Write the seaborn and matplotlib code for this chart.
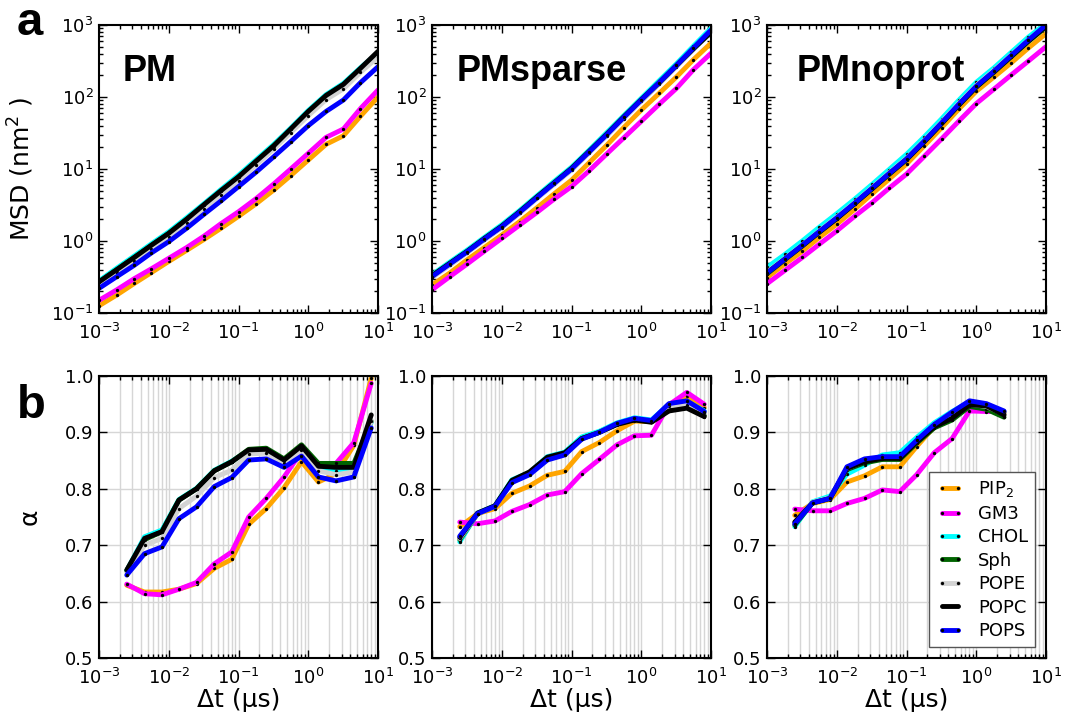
import numpy as np
import pandas as pd
import seaborn as sns
import matplotlib
matplotlib.use("Agg")
import matplotlib.pyplot as plt
from matplotlib.ticker import LogLocator, FormatStrFormatter

# ---- data ----
lipids = ['PIP2', 'GM3', 'CHOL', 'Sph', 'POPE', 'POPC', 'POPS']
legend_labels = ['PIP$_2$', 'GM3', 'CHOL', 'Sph', 'POPE', 'POPC', 'POPS']
colors = ['#FFA500', '#FF00FF', '#00FFFF', '#006400', '#D3D3D3', '#000000', '#0000FF']
systems = ['PM', 'PMsparse', 'PMnoprot']

# lag times (us)
t_msd = [0.001, 0.0018, 0.0032, 0.0056, 0.01, 0.018, 0.032, 0.056, 0.1,
         0.18, 0.32, 0.56, 1.0, 1.8, 3.2, 5.6, 10.0]
t_alpha = [0.0025, 0.0045, 0.008, 0.014, 0.025, 0.045, 0.08, 0.14, 0.25,
           0.45, 0.8, 1.4, 2.5, 4.5, 8.0]
t_alpha_noprot = [0.0025, 0.0045, 0.008, 0.014, 0.025, 0.045, 0.08, 0.14,
                  0.25, 0.45, 0.8, 1.4, 2.5]

# MSD (nm^2)
msd_pm = {
    'PIP2': [0.126, 0.178, 0.257, 0.363, 0.52, 0.74, 1.05, 1.5, 2.2, 3.3, 5.1, 8.1, 13.3, 22, 29, 54, 100],
    'GM3':  [0.15, 0.21, 0.30, 0.41, 0.575, 0.81, 1.17, 1.74, 2.55, 3.9, 6.2, 10, 16.5, 27.5, 36, 69, 125],
    'CHOL': [0.28, 0.42, 0.62, 0.91, 1.34, 2.1, 3.3, 5.2, 8.2, 13.5, 22, 37, 65, 108, 155, 255, 410],
    'Sph':  [0.27, 0.40, 0.59, 0.86, 1.27, 2.0, 3.1, 4.9, 7.7, 12.7, 21, 35, 62, 103, 148, 245, 400],
    'POPE': [0.24, 0.36, 0.52, 0.77, 1.13, 1.76, 2.8, 4.4, 6.9, 11.4, 19, 32, 55, 92, 130, 220, 360],
    'POPC': [0.27, 0.40, 0.59, 0.87, 1.28, 2.0, 3.2, 5.0, 7.8, 12.9, 21, 36, 63, 105, 150, 250, 430],
    'POPS': [0.22, 0.32, 0.46, 0.68, 0.98, 1.5, 2.35, 3.6, 5.7, 9.1, 14.8, 24, 40, 63, 91, 158, 263],
}
msd_sparse = {
    'PIP2': [0.245, 0.36, 0.55, 0.81, 1.21, 1.86, 2.9, 4.5, 7.0, 12.3, 21.4, 37.6, 66, 112, 190, 330, 560],
    'GM3':  [0.21, 0.32, 0.48, 0.72, 1.09, 1.66, 2.5, 3.8, 5.7, 9.5, 16.2, 27, 46, 79, 132, 240, 405],
    'CHOL': [0.34, 0.51, 0.75, 1.12, 1.68, 2.65, 4.25, 6.7, 10.6, 18.4, 32, 55, 96, 168, 290, 510, 900],
    'Sph':  [0.32, 0.48, 0.71, 1.05, 1.57, 2.5, 4.0, 6.2, 9.9, 17.2, 29.5, 51, 89, 154, 268, 465, 790],
    'POPE': [0.31, 0.46, 0.69, 1.03, 1.53, 2.42, 3.9, 6.1, 9.7, 16.9, 29, 50, 88, 153, 265, 465, 820],
    'POPC': [0.33, 0.49, 0.72, 1.08, 1.61, 2.55, 4.1, 6.4, 10.2, 17.7, 30.5, 53, 92, 158, 275, 470, 800],
    'POPS': [0.32, 0.48, 0.71, 1.06, 1.58, 2.5, 4.0, 6.3, 10, 17.4, 30, 52, 91, 158, 275, 480, 850],
}
msd_noprot = {
    'PIP2': [0.31, 0.48, 0.72, 1.12, 1.71, 2.75, 4.5, 7.2, 11.7, 21, 37.6, 67.6, 120, 190, 300, 480, 760],
    'GM3':  [0.255, 0.39, 0.59, 0.90, 1.38, 2.2, 3.4, 5.4, 8.5, 15, 26.3, 46, 81, 129, 204, 316, 500],
    'CHOL': [0.43, 0.65, 1.0, 1.55, 2.4, 3.8, 6.1, 9.8, 16, 28, 50, 90, 160, 255, 420, 680, 1050],
    'Sph':  [0.35, 0.55, 0.85, 1.32, 2.05, 3.3, 5.3, 8.4, 13.5, 24, 43, 77, 137, 222, 365, 590, 940],
    'POPE': [0.37, 0.57, 0.88, 1.37, 2.15, 3.4, 5.5, 8.8, 14.1, 25, 45, 81, 145, 235, 385, 620, 980],
    'POPC': [0.36, 0.56, 0.86, 1.33, 2.05, 3.3, 5.3, 8.5, 13.6, 24, 43, 77, 138, 225, 370, 600, 960],
    'POPS': [0.36, 0.56, 0.87, 1.35, 2.1, 3.35, 5.4, 8.6, 13.8, 24.5, 44, 79, 141, 229, 380, 617, 1000],
}

# anomalous exponent alpha
alpha_pm = {
    'PIP2': [0.629, 0.617, 0.617, 0.622, 0.632, 0.659, 0.675, 0.737, 0.765, 0.802, 0.848, 0.812, 0.827, 0.877, 0.996],
    'GM3':  [0.631, 0.614, 0.612, 0.622, 0.634, 0.667, 0.688, 0.750, 0.783, 0.821, 0.866, 0.834, 0.845, 0.882, 0.987],
    'CHOL': [0.655, 0.715, 0.727, 0.781, 0.801, 0.833, 0.849, 0.868, 0.870, 0.851, 0.874, 0.836, 0.832, 0.834, 0.918],
    'Sph':  [0.655, 0.710, 0.724, 0.780, 0.800, 0.832, 0.848, 0.870, 0.872, 0.853, 0.878, 0.845, 0.845, 0.845, 0.920],
    'POPE': [0.652, 0.700, 0.712, 0.765, 0.787, 0.820, 0.833, 0.862, 0.863, 0.845, 0.868, 0.832, 0.825, 0.830, 0.920],
    'POPC': [0.656, 0.712, 0.724, 0.780, 0.800, 0.832, 0.848, 0.869, 0.870, 0.851, 0.876, 0.840, 0.838, 0.838, 0.931],
    'POPS': [0.647, 0.685, 0.697, 0.747, 0.768, 0.804, 0.820, 0.851, 0.853, 0.838, 0.858, 0.821, 0.814, 0.821, 0.908],
}
alpha_sparse = {
    'PIP2': [0.733, 0.756, 0.765, 0.792, 0.805, 0.824, 0.831, 0.866, 0.882, 0.903, 0.920, 0.919, 0.950, 0.964, 0.944],
    'GM3':  [0.741, 0.738, 0.743, 0.760, 0.772, 0.789, 0.795, 0.827, 0.852, 0.878, 0.894, 0.895, 0.949, 0.971, 0.950],
    'CHOL': [0.706, 0.757, 0.770, 0.816, 0.829, 0.857, 0.865, 0.892, 0.902, 0.917, 0.926, 0.922, 0.950, 0.955, 0.938],
    'Sph':  [0.710, 0.756, 0.769, 0.814, 0.828, 0.854, 0.862, 0.889, 0.900, 0.915, 0.923, 0.919, 0.942, 0.945, 0.930],
    'POPE': [0.712, 0.756, 0.769, 0.812, 0.826, 0.852, 0.861, 0.888, 0.900, 0.915, 0.923, 0.920, 0.947, 0.948, 0.934],
    'POPC': [0.714, 0.757, 0.770, 0.815, 0.830, 0.856, 0.864, 0.889, 0.900, 0.914, 0.922, 0.918, 0.938, 0.943, 0.928],
    'POPS': [0.716, 0.756, 0.769, 0.811, 0.825, 0.851, 0.860, 0.888, 0.900, 0.916, 0.925, 0.921, 0.951, 0.956, 0.937],
}
alpha_noprot = {
    'PIP2': [0.753, 0.774, 0.781, 0.812, 0.823, 0.839, 0.839, 0.875, 0.910, 0.929, 0.949, 0.943, 0.934],
    'GM3':  [0.764, 0.761, 0.761, 0.774, 0.783, 0.798, 0.795, 0.825, 0.864, 0.889, 0.938, 0.937, 0.937],
    'CHOL': [0.733, 0.777, 0.787, 0.826, 0.842, 0.860, 0.864, 0.891, 0.917, 0.937, 0.954, 0.949, 0.937],
    'Sph':  [0.736, 0.775, 0.783, 0.834, 0.846, 0.852, 0.852, 0.881, 0.908, 0.922, 0.946, 0.941, 0.927],
    'POPE': [0.740, 0.776, 0.784, 0.836, 0.849, 0.856, 0.856, 0.884, 0.912, 0.930, 0.950, 0.946, 0.933],
    'POPC': [0.741, 0.775, 0.783, 0.836, 0.848, 0.854, 0.854, 0.883, 0.910, 0.925, 0.949, 0.947, 0.931],
    'POPS': [0.738, 0.775, 0.783, 0.839, 0.853, 0.857, 0.857, 0.886, 0.914, 0.936, 0.956, 0.951, 0.938],
}


def to_long(t, d):
    return pd.DataFrame([(ti, v, lip) for lip in lipids for ti, v in zip(t, d[lip])],
                        columns=['t', 'v', 'lipid'])


sns.set_style("ticks")
plt.rcParams['font.family'] = ['DejaVu Sans']
plt.rcParams['mathtext.fontset'] = 'dejavusans'
for key in ['text.color', 'axes.labelcolor', 'xtick.color', 'ytick.color']:
    plt.rcParams[key] = 'black'

fig = plt.figure(figsize=(10.73, 7.21), dpi=100)
W, H = 1073, 721
lefts = [99, 432, 767]
width = 279
top_axes = [fig.add_axes([l / W, 1 - 313 / H, width / W, 288 / H]) for l in lefts]
bot_axes = [fig.add_axes([l / W, 1 - 658 / H, width / W, 282 / H]) for l in lefts]

line_kw = dict(lw=3.5, marker='o', ms=2.4, mfc='k', mec='k', mew=0,
               legend=False, sort=False, estimator=None)

title_x = [0.085, 0.09, 0.105]
for ax, d, name, tx in zip(top_axes, [msd_pm, msd_sparse, msd_noprot], systems, title_x):
    ax.set_xscale('log')
    ax.set_yscale('log')
    sns.lineplot(data=to_long(t_msd, d), x='t', y='v', hue='lipid', hue_order=lipids,
                 palette=colors, ax=ax, **line_kw)
    ax.set_xlim(1e-3, 1e1)
    ax.set_ylim(1e-1, 1e3)
    ax.text(tx, 0.805, name, transform=ax.transAxes, fontsize=26, fontweight='bold',
            family='Liberation Sans', va='baseline')
    ax.set_xlabel('')
    ax.set_ylabel('')

for ax, d, t in zip(bot_axes, [alpha_pm, alpha_sparse, alpha_noprot],
                    [t_alpha, t_alpha, t_alpha_noprot]):
    ax.set_xscale('log')
    sns.lineplot(data=to_long(t, d), x='t', y='v', hue='lipid', hue_order=lipids,
                 palette=colors, ax=ax, **line_kw)
    ax.set_xlim(1e-3, 1e1)
    ax.set_ylim(0.5, 1.0)
    ax.set_yticks([0.5, 0.6, 0.7, 0.8, 0.9, 1.0])
    ax.yaxis.set_major_formatter(FormatStrFormatter('%.1f'))
    ax.set_axisbelow(True)
    ax.grid(True, which='both', axis='x', color='#d6d6d6', lw=1)
    ax.grid(True, which='major', axis='y', color='#d6d6d6', lw=1)
    ax.set_xlabel('Δt (μs)', fontsize=18)
    ax.xaxis.set_label_coords(0.5, -0.105)
    ax.set_ylabel('')

for ax in top_axes + bot_axes:
    ax.xaxis.set_major_locator(LogLocator(base=10, numticks=10))
    ax.xaxis.set_minor_locator(LogLocator(base=10, subs=np.arange(2, 10), numticks=20))
    ax.tick_params(which='both', direction='in', top=True, right=True, labelsize=13, width=1)
    ax.tick_params(which='major', length=6)
    ax.tick_params(which='minor', length=3)
    ax.tick_params(axis='x', which='major', pad=7)
    ax.tick_params(axis='y', which='major', pad=4)
    for s in ax.spines.values():
        s.set_linewidth(1.5)
        s.set_color('k')

top_axes[0].set_ylabel('MSD (nm$^2$ )', fontsize=18)
top_axes[0].yaxis.set_label_coords(-0.225, 0.5)
bot_axes[0].set_ylabel('α', fontsize=18)
bot_axes[0].yaxis.set_label_coords(-0.205, 0.5)

fig.text(17 / W, 1 - 35 / H, 'a', fontsize=34, fontweight='bold', family='Liberation Sans', va='baseline')
fig.text(17 / W, 1 - 418 / H, 'b', fontsize=34, fontweight='bold', family='Liberation Sans', va='baseline')

ax = bot_axes[2]
ax.legend(handles=ax.get_lines()[:7], labels=legend_labels, loc='lower right', fontsize=13,
          numpoints=2, frameon=True, fancybox=False, edgecolor='#555555', framealpha=1,
          handlelength=1.5, labelspacing=0.3, borderaxespad=0.6)

fig.savefig('out.png', dpi=100)
